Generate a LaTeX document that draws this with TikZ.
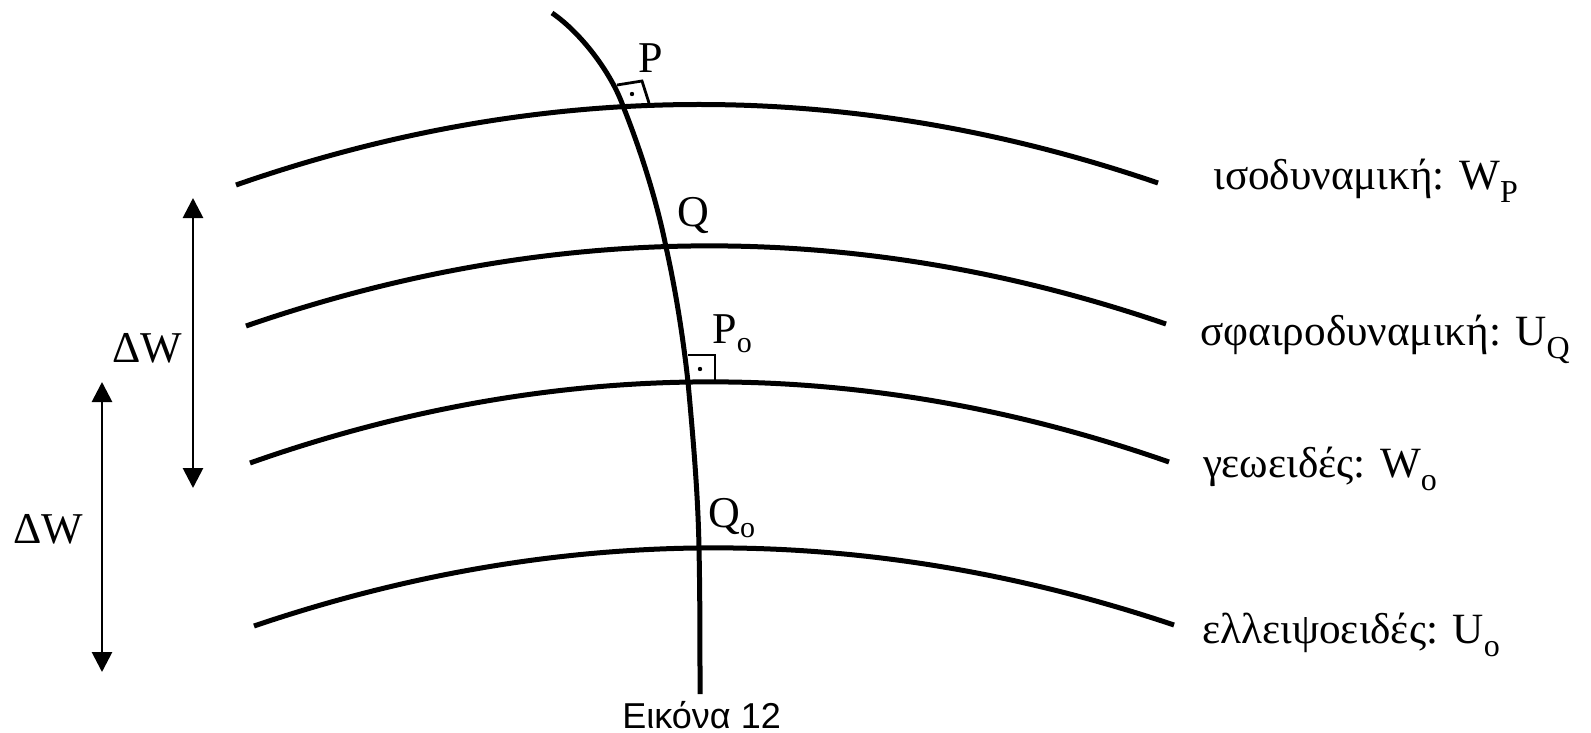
\documentclass[tikz,border=0pt]{standalone}
\usepackage{fontspec}
\setmainfont{Liberation Serif}
\newfontfamily\captionfont{Liberation Sans}
\usetikzlibrary{arrows.meta}
\newcommand{\lowidx}[3][6.5pt]{\raisebox{-#1}{\fontsize{#2}{#2}\selectfont #3}}

\begin{document}
\begin{tikzpicture}[
  x=0.5pt, y=-0.5pt,
  level/.style={line width=2.5pt},
  plumb/.style={line width=2.5pt},
  rightangle/.style={line width=1.4pt},
  dimarr/.style={{Triangle[length=10pt,width=10pt]}-{Triangle[length=10pt,width=10pt]},
                 line width=1.4pt},
  pointlab/.style={inner sep=0pt, anchor=base west, font=\fontsize{22}{22}\selectfont},
  surflab/.style={inner sep=0pt, anchor=base west, font=\fontsize{21.6}{21.6}\selectfont}
]
\useasboundingbox (0,0) rectangle (1591,733);

% ---- level surfaces ----
\draw[level] (236,185) .. controls (543,78) and (851,78) .. (1158,183);
\draw[level] (246,326) .. controls (553,220) and (859,219) .. (1166,324);
\draw[level] (250,463) .. controls (556,355) and (863,355) .. (1169,462);
\draw[level] (254,626) .. controls (561,522) and (867,522) .. (1174,625);

% ---- plumb line ----
\coordinate (top) at (552,13);
\coordinate (P)   at (623,106);
\coordinate (Q)   at (666,247);
\coordinate (Po)  at (688,382);
\coordinate (Qo)  at (699,548);
\coordinate (bot) at (700,694);
\draw[plumb] (top) .. controls (580,32) and (611,72) .. (P)
  .. controls (641,151) and (657,202) .. (Q)
  .. controls (676,292) and (683,337) .. (Po)
  .. controls (693,437) and (698,493) .. (Qo)
  .. controls (700,596) and (700,646) .. (bot);

% right angles
\draw[rightangle] (P) ++(-6,-21) -- ++(25,-4) -- ++(7,22);
\fill (P) ++(9,-12) circle (1.1pt);
\draw[rightangle] (Po) ++(0,-27) -- ++(27,0) -- ++(0,27);
\fill (Po) ++(12,-13) circle (1.1pt);

% ---- point labels ----
\node[pointlab] (labP)  at (638,73)  {P};
\node[pointlab] (labQ)  at (677,227) {Q};
\node[pointlab] (labPo) at (712,343) {P\lowidx[5pt]{15}{o}};
\node[pointlab] (labQo) at (708,527) {Q\lowidx[5pt]{15}{o}};

% ---- surface labels ----
\node[surflab] (wp) at (1213,190) {ισοδυναμική: W\lowidx{16}{P}};
\node[surflab] (uq) at (1200,345) {σφαιροδυναμική: U\lowidx{16}{Q}};
\node[surflab] (wo) at (1203,477) {γεωειδές: W\lowidx{16}{o}};
\node[surflab] (uo) at (1202,643) {ελλειψοειδές: U\lowidx{16}{o}};

% ---- potential differences ----
\coordinate (dwa-top) at (193,198);
\coordinate (dwa-bot) at (193,488);
\coordinate (dwb-top) at (102,382);
\coordinate (dwb-bot) at (102,672);
\draw[dimarr] (dwa-top) -- (dwa-bot);
\draw[dimarr] (dwb-top) -- (dwb-bot);
\node[pointlab] (dwa) at (112,362) {ΔW};
\node[pointlab] (dwb) at (13,543)  {ΔW};

% caption
\node[inner sep=0pt, anchor=base west, font=\captionfont\fontsize{18}{18}\selectfont]
  (fig) at (622,728) {Εικόνα 12};
\end{tikzpicture}
\end{document}
